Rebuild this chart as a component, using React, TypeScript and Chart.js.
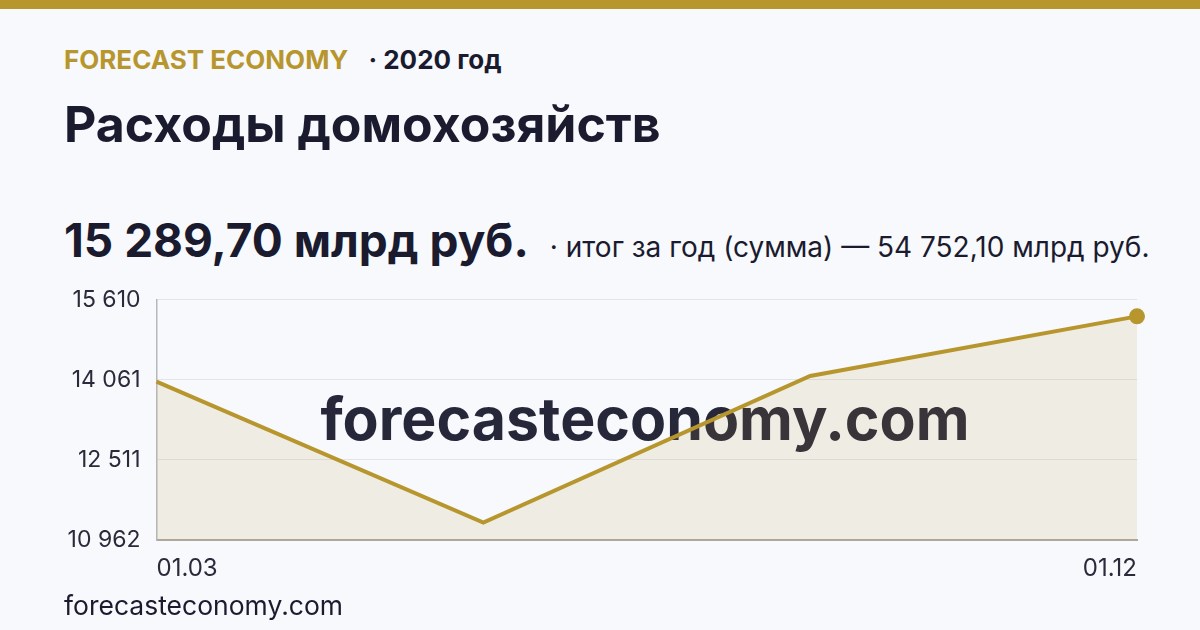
import React, { useEffect, useRef } from "react";
import { Chart, registerables } from "chart.js";

Chart.register(...registerables);

const categories = ["01.03", "01.06", "01.09", "01.12"];
const values = [14025, 11301, 14136.4, 15289.7];
const yTicks = [10962, 12511.33, 14061, 15610];

const GOLD = "#B8962E";
const DARK = "#1B1B2F";
const BG = "#F7F9FC";

const CANVAS_LEFT = 40;
const CANVAS_TOP = 270;

const fmt = (v: number) =>
  Math.round(v)
    .toString()
    .replace(/\B(?=(\d{3})+(?!\d))/g, " ");

const watermark = {
  id: "watermark",
  beforeDatasetsDraw(chart: any) {
    const { ctx } = chart;
    ctx.save();
    ctx.font = "bold 59px Inter";
    ctx.fillStyle = "rgba(27,27,47,0.95)";
    ctx.textAlign = "center";
    ctx.textBaseline = "middle";
    ctx.fillText("forecasteconomy.com", 645 - CANVAS_LEFT, 422 - CANVAS_TOP);
    ctx.restore();
  },
};

export default function App() {
  const ref = useRef<HTMLCanvasElement>(null);
  useEffect(() => {
    if (!ref.current) return;
    const chart = new Chart(ref.current, {
      type: "line",
      data: {
        labels: categories,
        datasets: [
          {
            data: values,
            borderColor: GOLD,
            borderWidth: 4,
            backgroundColor: "rgba(184,150,46,0.12)",
            fill: "start",
            tension: 0,
            pointRadius: [0, 0, 0, 8],
            pointHoverRadius: [0, 0, 0, 8],
            pointBackgroundColor: GOLD,
            pointBorderWidth: 0,
          },
        ],
      },
      options: {
        animation: false,
        responsive: false,
        maintainAspectRatio: false,
        layout: { padding: { top: 15, right: 23, left: 0, bottom: 0 } },
        plugins: { legend: { display: false }, tooltip: { enabled: false } },
        scales: {
          x: {
            offset: false,
            grid: { display: false },
            border: { display: true, color: "#ADA99F", width: 2 },
            afterFit: (s: any) => {
              s.height = 55;
            },
            ticks: {
              autoSkip: false,
              maxRotation: 0,
              align: "inner",
              padding: 6,
              color: "#2A2A3A",
              font: { family: "Inter", size: 24 },
              callback: (_v: any, i: number) =>
                i === 0 || i === categories.length - 1 ? categories[i] : "",
            },
          },
          y: {
            min: yTicks[0],
            max: yTicks[yTicks.length - 1],
            afterFit: (s: any) => {
              s.width = 116.5;
            },
            afterBuildTicks: (s: any) => {
              s.ticks = yTicks.map((v) => ({ value: v }));
            },
            grid: { color: "#E2E4EA", lineWidth: 1, drawTicks: false },
            border: { display: true, color: "#B8B8BC", width: 1.5 },
            ticks: {
              padding: 16,
              color: "#2A2A3A",
              font: { family: "Inter", size: 23 },
              callback: (v: any) => fmt(Number(v)),
            },
          },
        },
      },
      plugins: [watermark],
    });
    return () => chart.destroy();
  }, []);

  return (
    <div
      style={{
        position: "fixed",
        left: 0,
        top: 0,
        width: 1200,
        height: 630,
        background: BG,
        fontFamily: "Inter, 'Noto Sans', sans-serif",
        overflow: "hidden",
      }}
    >
      <div style={{ position: "absolute", left: 0, top: 0, width: 1200, height: 9, background: GOLD }} />
      <div
        style={{
          position: "absolute",
          left: 64,
          top: 45,
          fontSize: 26,
          fontWeight: 700,
          whiteSpace: "nowrap",
          lineHeight: "30px",
        }}
      >
        <span style={{ color: GOLD }}>FORECAST ECONOMY</span>
        <span style={{ color: DARK, marginLeft: 20 }}>· 2020 год</span>
      </div>
      <div
        style={{
          position: "absolute",
          left: 64,
          top: 92,
          fontSize: 50,
          fontWeight: 700,
          color: DARK,
          whiteSpace: "nowrap",
          lineHeight: "64px",
        }}
      >
        Расходы домохозяйств
      </div>
      <div
        style={{
          position: "absolute",
          left: 64,
          top: 212,
          whiteSpace: "nowrap",
          color: DARK,
          display: "flex",
          alignItems: "baseline",
        }}
      >
        <span style={{ fontSize: 46, fontWeight: 700, lineHeight: "56px" }}>15 289,70 млрд руб.</span>
        <span style={{ fontSize: 28, marginLeft: 21 }}>· итог за год (сумма) — 54 752,10 млрд руб.</span>
      </div>
      <canvas
        ref={ref}
        width={1120}
        height={325}
        style={{ position: "absolute", left: CANVAS_LEFT, top: CANVAS_TOP, width: 1120, height: 325 }}
      />
      <div
        style={{
          position: "absolute",
          left: 64,
          top: 590,
          fontSize: 26.5,
          color: DARK,
          whiteSpace: "nowrap",
          lineHeight: "30px",
        }}
      >
        forecasteconomy.com
      </div>
    </div>
  );
}
